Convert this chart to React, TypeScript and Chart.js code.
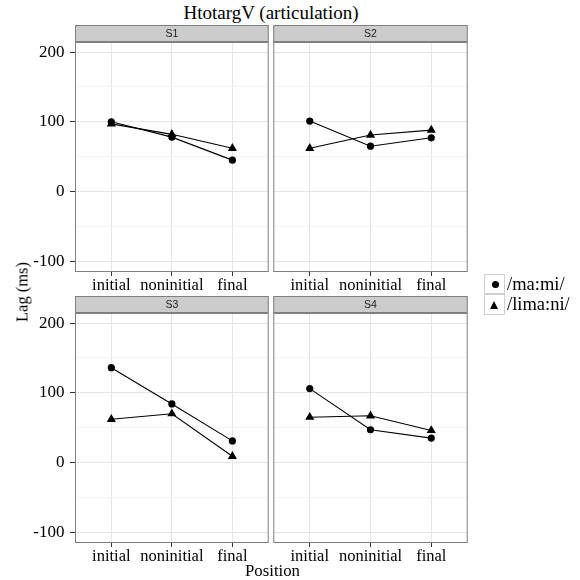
import React, { useEffect, useRef } from "react";
import { Chart, registerables } from "chart.js";

Chart.register(...registerables);

// ---- data ----
const positions = ["initial", "noninitial", "final"];
const panelNames = ["S1", "S2", "S3", "S4"];
const seriesNames = ["/ma:mi/", "/lima:ni/"];
const mamiS1 = [100, 78, 45];
const limaniS1 = [97, 82, 62];
const mamiS2 = [101, 65, 77];
const limaniS2 = [62, 81, 88];
const mamiS3 = [136, 84, 31];
const limaniS3 = [62, 70, 9];
const mamiS4 = [106, 47, 35];
const limaniS4 = [65, 67, 46];
const yMajorTicks = [-100, 0, 100, 200];
const yMin = -115.4;
const yMax = 214.4;

const SERIF = "'Liberation Serif', 'Times New Roman', serif";
const SANS = "'Liberation Sans', Arial, sans-serif";
const STRIP = 17;
const XAXIS_H = 23;

function makeStripPlugin(label: string) {
  return {
    id: "stripAndBorder",
    afterDraw(chart: any) {
      const { ctx, chartArea } = chart;
      const { left, right, top, bottom } = chartArea;
      ctx.save();
      ctx.fillStyle = "#cccccc";
      ctx.fillRect(left, top - STRIP, right - left, STRIP);
      ctx.strokeStyle = "#7f7f7f";
      ctx.lineWidth = 1;
      ctx.strokeRect(left + 0.5, top - STRIP + 0.5, right - left - 1, STRIP - 1);
      ctx.strokeRect(left + 0.5, top + 0.5, right - left - 1, bottom - top - 1);
      ctx.fillStyle = "#1a1a1a";
      ctx.font = `10.5px ${SANS}`;
      ctx.textAlign = "center";
      ctx.textBaseline = "middle";
      ctx.fillText(label, (left + right) / 2, top - STRIP / 2 + 0.5);
      ctx.restore();
    },
  };
}

type PanelProps = {
  name: string;
  mami: number[];
  limani: number[];
  left: number;
  top: number;
  width: number;
  height: number;
  yWidth: number;
  showY: boolean;
};

function Panel({ name, mami, limani, left, top, width, height, yWidth, showY }: PanelProps) {
  const ref = useRef<HTMLCanvasElement>(null);
  useEffect(() => {
    if (!ref.current) return;
    const chart = new Chart(ref.current, {
      type: "line",
      data: {
        datasets: [
          {
            label: seriesNames[0],
            data: mami.map((v, i) => ({ x: i, y: v })),
            borderColor: "#000",
            backgroundColor: "#000",
            borderWidth: 1.1,
            pointStyle: "circle",
            pointRadius: 3.6,
            pointBorderWidth: 0,
            pointBackgroundColor: "#000",
          },
          {
            label: seriesNames[1],
            data: limani.map((v, i) => ({ x: i, y: v })),
            borderColor: "#000",
            backgroundColor: "#000",
            borderWidth: 1.1,
            pointStyle: "triangle",
            pointRadius: 5.3,
            pointBorderWidth: 0,
            pointBackgroundColor: "#000",
          },
        ],
      },
      options: {
        animation: false,
        responsive: false,
        maintainAspectRatio: false,
        layout: { padding: { top: STRIP, right: 0, left: 0, bottom: 0 } },
        plugins: {
          legend: { display: false },
          tooltip: { enabled: false },
          title: { display: false },
        },
        scales: {
          x: {
            type: "linear",
            min: -0.6,
            max: 2.6,
            afterBuildTicks: (s: any) => {
              s.ticks = positions.map((_, i) => ({ value: i }));
            },
            afterFit: (s: any) => {
              s.height = XAXIS_H;
              s.paddingLeft = 0;
              s.paddingRight = 0;
            },
            ticks: {
              callback: (v: any) => positions[v as number] ?? "",
              font: { family: SERIF, size: 16.5 },
              color: "#000",
              padding: 0,
              maxRotation: 0,
              autoSkip: false,
            },
            grid: { color: "#e5e5e5", tickColor: "#333333", tickLength: 4, lineWidth: 1 },
            border: { display: false },
          },
          y: {
            type: "linear",
            min: yMin,
            max: yMax,
            afterFit: (s: any) => {
              s.width = yWidth;
            },
            ticks: {
              stepSize: 50,
              includeBounds: false,
              display: showY,
              callback: (v: any) => (yMajorTicks.includes(v as number) ? String(v) : ""),
              font: { family: SERIF, size: 17 },
              color: "#000",
              padding: 5.5,
            },
            grid: {
              color: (c: any) =>
                c.tick && yMajorTicks.includes(c.tick.value) ? "#e5e5e5" : "#f4f4f4",
              tickColor: (c: any) =>
                showY && c.tick && yMajorTicks.includes(c.tick.value) ? "#333333" : "rgba(0,0,0,0)",
              drawTicks: showY,
              tickLength: 5,
              lineWidth: 1,
            },
            border: { display: false },
          },
        },
      },
      plugins: [makeStripPlugin(name)],
    });
    return () => chart.destroy();
  }, []);
  return (
    <canvas
      ref={ref}
      width={width}
      height={height}
      style={{ position: "absolute", left, top, width, height }}
    />
  );
}

export default function App() {
  const textBase: React.CSSProperties = {
    position: "absolute",
    fontFamily: SERIF,
    color: "#000",
    whiteSpace: "nowrap",
    lineHeight: 1.15,
  };
  return (
    <div
      style={{
        position: "absolute",
        left: 0,
        top: 0,
        width: 580,
        height: 580,
        background: "#fff",
        overflow: "hidden",
      }}
    >
      <div style={{ ...textBase, left: 0, width: 542, top: 2, textAlign: "center", fontSize: 19 }}>
        HtotargV (articulation)
      </div>
      <Panel name={panelNames[0]} mami={mamiS1} limani={limaniS1} left={0} top={25} width={274} height={270} yWidth={75} showY={true} />
      <Panel name={panelNames[1]} mami={mamiS2} limani={limaniS2} left={268} top={25} width={205} height={270} yWidth={5.3} showY={false} />
      <Panel name={panelNames[2]} mami={mamiS3} limani={limaniS3} left={0} top={296} width={274} height={270} yWidth={75} showY={true} />
      <Panel name={panelNames[3]} mami={mamiS4} limani={limaniS4} left={268} top={296} width={205} height={270} yWidth={5.3} showY={false} />
      <div
        style={{
          ...textBase,
          left: 22.8,
          top: 291.7,
          fontSize: 16.5,
          transform: "translate(-50%, -50%) rotate(-90deg)",
        }}
      >
        Lag (ms)
      </div>
      <div style={{ ...textBase, left: 172.5, width: 200, top: 561.4, textAlign: "center", fontSize: 16.8 }}>
        Position
      </div>
      <div style={{ position: "absolute", left: 484, top: 274, width: 21, height: 20, border: "1px solid #d0d0d0", boxSizing: "border-box", background: "#fff" }}>
        <div style={{ position: "absolute", left: 6.5, top: 6, width: 7, height: 7, borderRadius: "50%", background: "#000" }} />
      </div>
      <div style={{ position: "absolute", left: 484, top: 294, width: 21, height: 21, border: "1px solid #d0d0d0", boxSizing: "border-box", background: "#fff" }}>
        <div
          style={{
            position: "absolute",
            left: 5,
            top: 5.5,
            width: 0,
            height: 0,
            borderLeft: "4.5px solid transparent",
            borderRight: "4.5px solid transparent",
            borderBottom: "8px solid #000",
          }}
        />
      </div>
      <div style={{ ...textBase, left: 507, top: 273.5, fontSize: 18.5 }}>{seriesNames[0]}</div>
      <div style={{ ...textBase, left: 507, top: 293.5, fontSize: 18.5 }}>{seriesNames[1]}</div>
    </div>
  );
}
